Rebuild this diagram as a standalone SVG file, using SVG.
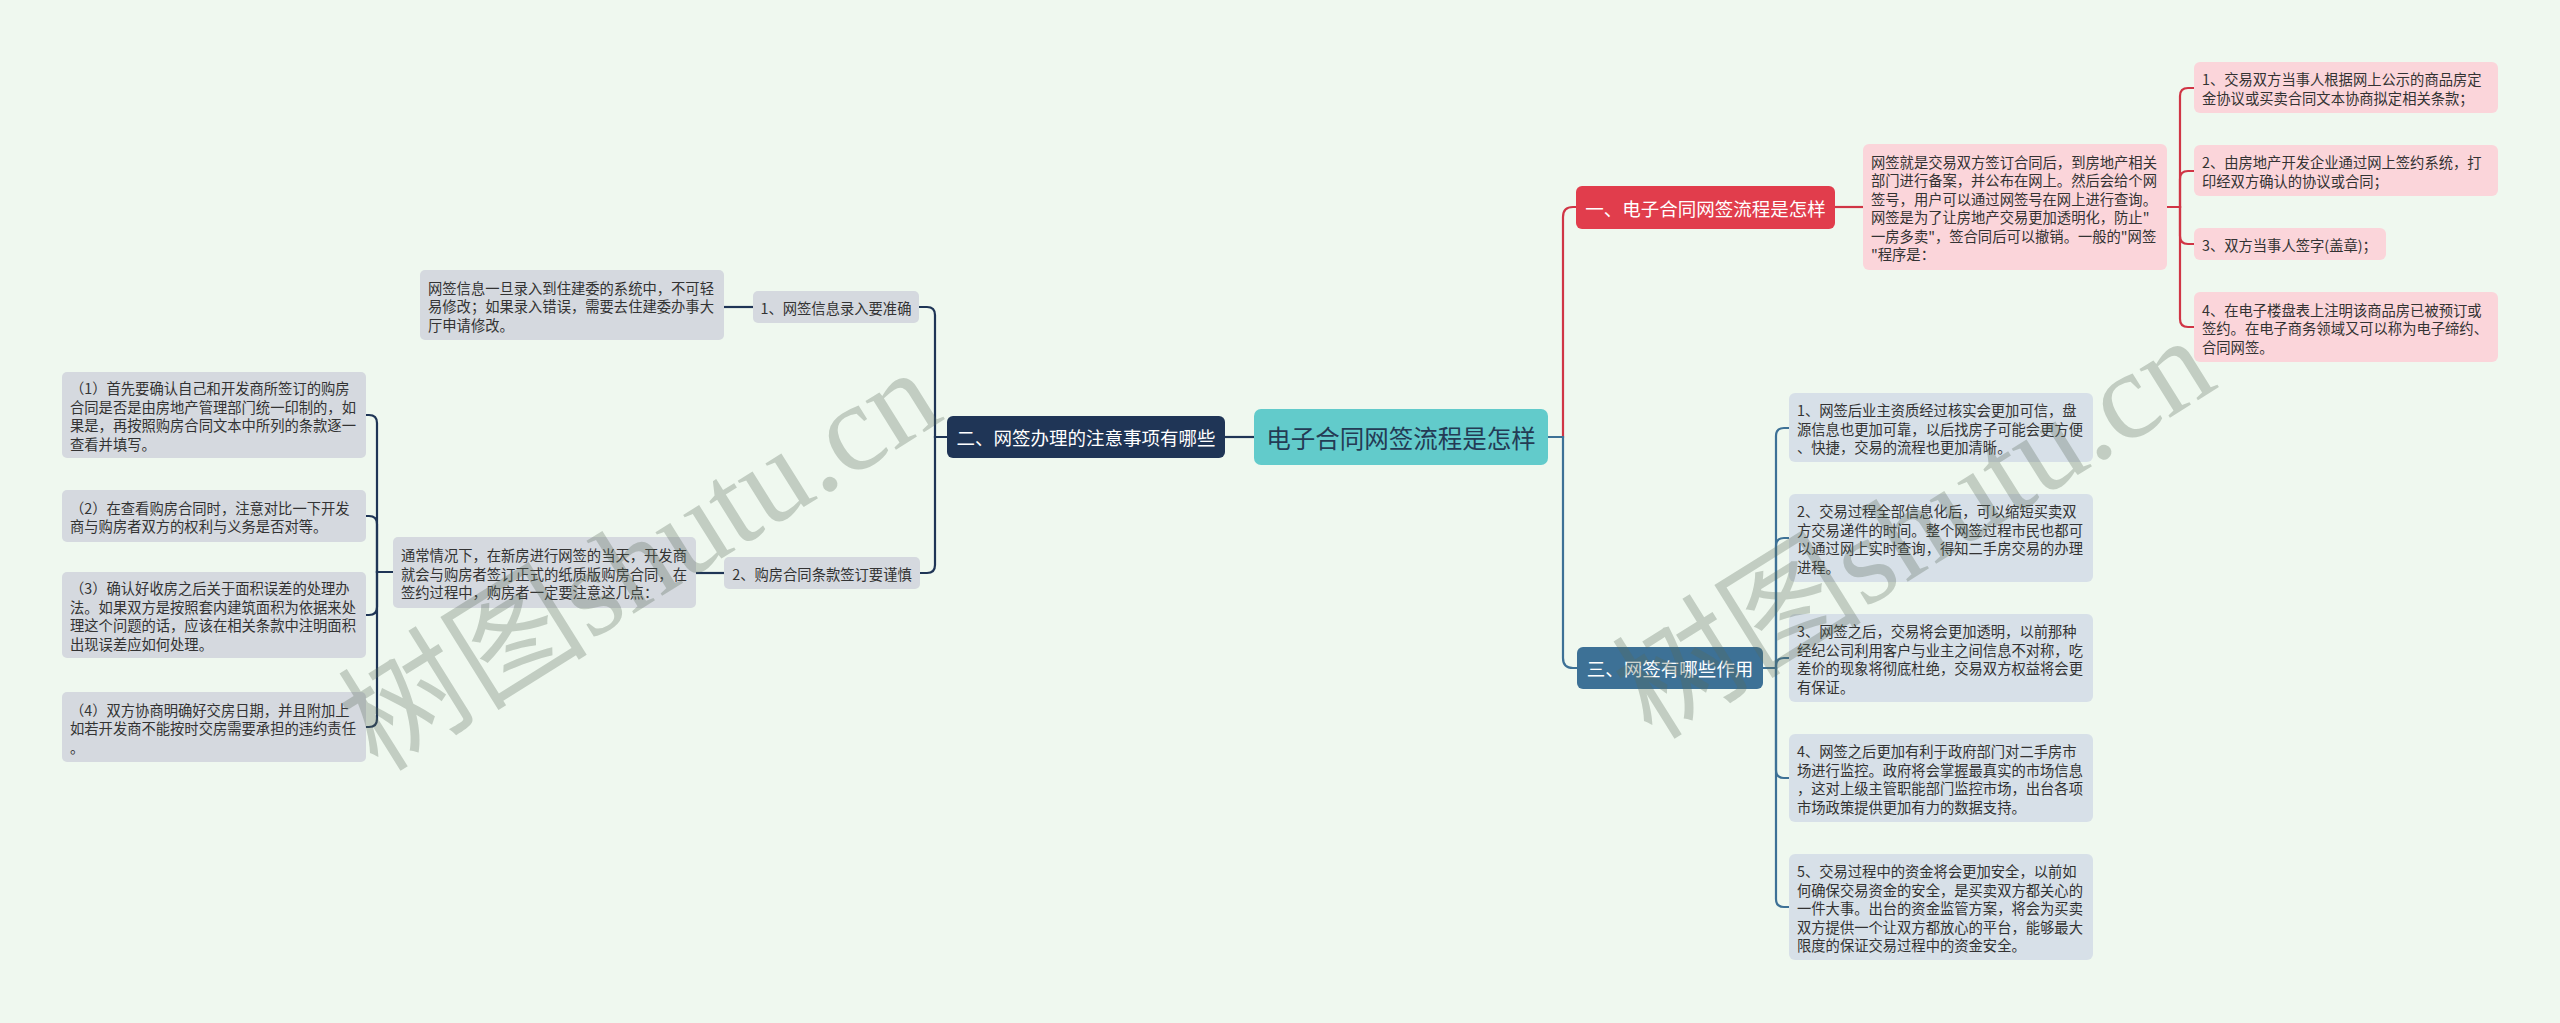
<svg xmlns="http://www.w3.org/2000/svg" width="2560" height="1023" viewBox="0 0 2560 1023">
<style>
text{font-family:"Noto Sans CJK SC","Noto Sans",sans-serif;}
.t{font-size:14.3px;fill:#333;dominant-baseline:central;}
.c{text-anchor:middle;dominant-baseline:central;}
.leafL{fill:#d5d9df;}
.leafP{fill:#fbd5da;}
.leafB{fill:#d7e0e8;}
.ln{fill:none;stroke-width:2.2;}
.navy{stroke:#1f3556;}
.red{stroke:#d03545;}
.blue{stroke:#3d7196;}
.wm{font-family:"Liberation Serif","Noto Sans CJK SC",serif;font-size:125px;fill:#5a6a5a;fill-opacity:0.3;text-anchor:middle;dominant-baseline:central;}
</style>
<rect x="0" y="0" width="2560" height="1023" fill="#eff8ef"/>
<g id="connectors">
<path class="ln navy" d="M1254,437 H1225"/>
<path class="ln navy" d="M947,437 H935 V315 Q935,307 927,307 H919"/>
<path class="ln navy" d="M947,437 H935 V565 Q935,573 927,573 H920"/>
<path class="ln navy" d="M753,307 H724"/>
<path class="ln navy" d="M724,573 H696"/>
<path class="ln navy" d="M393,572 H377 V423 Q377,415 369,415 H366"/>
<path class="ln navy" d="M393,572 H377 V524 Q377,516 369,516 H366"/>
<path class="ln navy" d="M393,572 H377 V607 Q377,615 369,615 H366"/>
<path class="ln navy" d="M393,572 H377 V719 Q377,727 369,727 H366"/>
<path class="ln red" d="M1548,437 H1563 V217 Q1563,207 1573,207 H1576"/>
<path class="ln red" d="M1835,207 H1863"/>
<path class="ln red" d="M2167,207 H2180 V96 Q2180,88 2188,88 H2194"/>
<path class="ln red" d="M2167,207 H2180 V179 Q2180,171 2188,171 H2194"/>
<path class="ln red" d="M2167,207 H2180 V236 Q2180,244 2188,244 H2194"/>
<path class="ln red" d="M2167,207 H2180 V319 Q2180,327 2188,327 H2194"/>
<path class="ln blue" d="M1548,437 H1563 V658 Q1563,668 1573,668 H1577"/>
<path class="ln blue" d="M1763,668 H1776 V436 Q1776,428 1784,428 H1789"/>
<path class="ln blue" d="M1763,668 H1776 V546 Q1776,538 1784,538 H1789"/>
<path class="ln blue" d="M1763,668 H1776 V666 Q1776,658 1784,658 H1789"/>
<path class="ln blue" d="M1763,668 H1776 V770 Q1776,778 1784,778 H1789"/>
<path class="ln blue" d="M1763,668 H1776 V899 Q1776,907 1784,907 H1789"/>
</g>
<g id="center">
<rect x="1254" y="409" width="294" height="56" rx="7" fill="#62cbcb"/>
<text class="c" x="1401" y="437" font-size="24.5" fill="#243b55">电子合同网签流程是怎样</text>
</g>
<g id="b2">
<rect x="947" y="416" width="278" height="42" rx="6" fill="#1f3556"/>
<text class="c" x="1086" y="437" font-size="18.5" fill="#fff">二、网签办理的注意事项有哪些</text>
</g>
<g id="b2c1">
<rect x="753" y="291" width="166" height="32" rx="5" class="leafL"/>
<text class="c" x="836" y="307" font-size="14.3" fill="#333">1、网签信息录入要准确</text>
</g>
<g id="b2c1l">
<rect x="420" y="270" width="304" height="70" rx="5" class="leafL"/>
<text class="t" x="428"><tspan x="428" y="286.5">网签信息一旦录入到住建委的系统中，不可轻</tspan><tspan x="428" y="305">易修改；如果录入错误，需要去住建委办事大</tspan><tspan x="428" y="323.5">厅申请修改。</tspan></text>
</g>
<g id="b2c2">
<rect x="724" y="557" width="196" height="32" rx="5" class="leafL"/>
<text class="c" x="822" y="573" font-size="14.3" fill="#333">2、购房合同条款签订要谨慎</text>
</g>
<g id="b2c2l">
<rect x="393" y="537" width="303" height="71" rx="5" class="leafL"/>
<text class="t"><tspan x="401" y="554">通常情况下，在新房进行网签的当天，开发商</tspan><tspan x="401" y="572.5">就会与购房者签订正式的纸质版购房合同，在</tspan><tspan x="401" y="591">签约过程中，购房者一定要注意这几点：</tspan></text>
</g>
<g id="b2l1">
<rect x="62" y="372" width="304" height="86" rx="5" class="leafL"/>
<text class="t"><tspan x="70" y="387.25">（1）首先要确认自己和开发商所签订的购房</tspan><tspan x="70" y="405.75">合同是否是由房地产管理部门统一印制的，如</tspan><tspan x="70" y="424.25">果是，再按照购房合同文本中所列的条款逐一</tspan><tspan x="70" y="442.75">查看并填写。</tspan></text>
</g>
<g id="b2l2">
<rect x="62" y="490" width="304" height="52" rx="5" class="leafL"/>
<text class="t"><tspan x="70" y="506.75">（2）在查看购房合同时，注意对比一下开发</tspan><tspan x="70" y="525.25">商与购房者双方的权利与义务是否对等。</tspan></text>
</g>
<g id="b2l3">
<rect x="62" y="572" width="304" height="86" rx="5" class="leafL"/>
<text class="t"><tspan x="70" y="587.25">（3）确认好收房之后关于面积误差的处理办</tspan><tspan x="70" y="605.75">法。如果双方是按照套内建筑面积为依据来处</tspan><tspan x="70" y="624.25">理这个问题的话，应该在相关条款中注明面积</tspan><tspan x="70" y="642.75">出现误差应如何处理。</tspan></text>
</g>
<g id="b2l4">
<rect x="62" y="692" width="304" height="70" rx="5" class="leafL"/>
<text class="t"><tspan x="70" y="708.5">（4）双方协商明确好交房日期，并且附加上</tspan><tspan x="70" y="727">如若开发商不能按时交房需要承担的违约责任</tspan><tspan x="70" y="745.5">。</tspan></text>
</g>
<g id="b1">
<rect x="1576" y="186" width="259" height="43" rx="6" fill="#e13d4c"/>
<text class="c" x="1705.5" y="207.5" font-size="18.5" fill="#fff">一、电子合同网签流程是怎样</text>
</g>
<g id="b1c">
<rect x="1863" y="144" width="304" height="126" rx="6" class="leafP"/>
<text class="t"><tspan x="1871" y="160.75">网签就是交易双方签订合同后，到房地产相关</tspan><tspan x="1871" y="179.25">部门进行备案，并公布在网上。然后会给个网</tspan><tspan x="1871" y="197.75">签号，用户可以通过网签号在网上进行查询。</tspan><tspan x="1871" y="216.25">网签是为了让房地产交易更加透明化，防止"</tspan><tspan x="1871" y="234.75">一房多卖"，签合同后可以撤销。一般的"网签</tspan><tspan x="1871" y="253.25">"程序是：</tspan></text>
</g>
<g id="b1l1">
<rect x="2194" y="62" width="304" height="51" rx="6" class="leafP"/>
<text class="t"><tspan x="2202" y="78.25">1、交易双方当事人根据网上公示的商品房定</tspan><tspan x="2202" y="96.75">金协议或买卖合同文本协商拟定相关条款；</tspan></text>
</g>
<g id="b1l2">
<rect x="2194" y="145" width="304" height="51" rx="6" class="leafP"/>
<text class="t"><tspan x="2202" y="161.25">2、由房地产开发企业通过网上签约系统，打</tspan><tspan x="2202" y="179.75">印经双方确认的协议或合同；</tspan></text>
</g>
<g id="b1l3">
<rect x="2194" y="228" width="192" height="32" rx="6" class="leafP"/>
<text class="t" x="2202" y="244">3、双方当事人签字(盖章)；</text>
</g>
<g id="b1l4">
<rect x="2194" y="292" width="304" height="70" rx="6" class="leafP"/>
<text class="t"><tspan x="2202" y="308.5">4、在电子楼盘表上注明该商品房已被预订或</tspan><tspan x="2202" y="327">签约。在电子商务领域又可以称为电子缔约、</tspan><tspan x="2202" y="345.5">合同网签。</tspan></text>
</g>
<g id="b3">
<rect x="1577" y="647" width="186" height="42" rx="6" fill="#3d7196"/>
<text class="c" x="1670" y="668" font-size="18.5" fill="#fff">三、网签有哪些作用</text>
</g>
<g id="b3l1">
<rect x="1789" y="393" width="304" height="69" rx="6" class="leafB"/>
<text class="t"><tspan x="1797" y="409">1、网签后业主资质经过核实会更加可信，盘</tspan><tspan x="1797" y="427.5">源信息也更加可靠，以后找房子可能会更方便</tspan><tspan x="1797" y="446">、快捷，交易的流程也更加清晰。</tspan></text>
</g>
<g id="b3l2">
<rect x="1789" y="494" width="304" height="88" rx="6" class="leafB"/>
<text class="t"><tspan x="1797" y="510.25">2、交易过程全部信息化后，可以缩短买卖双</tspan><tspan x="1797" y="528.75">方交易递件的时间。整个网签过程市民也都可</tspan><tspan x="1797" y="547.25">以通过网上实时查询，得知二手房交易的办理</tspan><tspan x="1797" y="565.75">进程。</tspan></text>
</g>
<g id="b3l3">
<rect x="1789" y="614" width="304" height="88" rx="6" class="leafB"/>
<text class="t"><tspan x="1797" y="630.25">3、网签之后，交易将会更加透明，以前那种</tspan><tspan x="1797" y="648.75">经纪公司利用客户与业主之间信息不对称，吃</tspan><tspan x="1797" y="667.25">差价的现象将彻底杜绝，交易双方权益将会更</tspan><tspan x="1797" y="685.75">有保证。</tspan></text>
</g>
<g id="b3l4">
<rect x="1789" y="734" width="304" height="88" rx="6" class="leafB"/>
<text class="t"><tspan x="1797" y="750.25">4、网签之后更加有利于政府部门对二手房市</tspan><tspan x="1797" y="768.75">场进行监控。政府将会掌握最真实的市场信息</tspan><tspan x="1797" y="787.25">，这对上级主管职能部门监控市场，出台各项</tspan><tspan x="1797" y="805.75">市场政策提供更加有力的数据支持。</tspan></text>
</g>
<g id="b3l5">
<rect x="1789" y="854" width="304" height="106" rx="6" class="leafB"/>
<text class="t"><tspan x="1797" y="870">5、交易过程中的资金将会更加安全，以前如</tspan><tspan x="1797" y="888.5">何确保交易资金的安全，是买卖双方都关心的</tspan><tspan x="1797" y="907">一件大事。出台的资金监管方案，将会为买卖</tspan><tspan x="1797" y="925.5">双方提供一个让双方都放心的平台，能够最大</tspan><tspan x="1797" y="944">限度的保证交易过程中的资金安全。</tspan></text>
</g>
<g id="watermark">
<text class="wm" transform="translate(640,560) rotate(-32)">树图shutu.cn</text>
<text class="wm" transform="translate(1914,528) rotate(-32)">树图shutu.cn</text>
</g>
</svg>
